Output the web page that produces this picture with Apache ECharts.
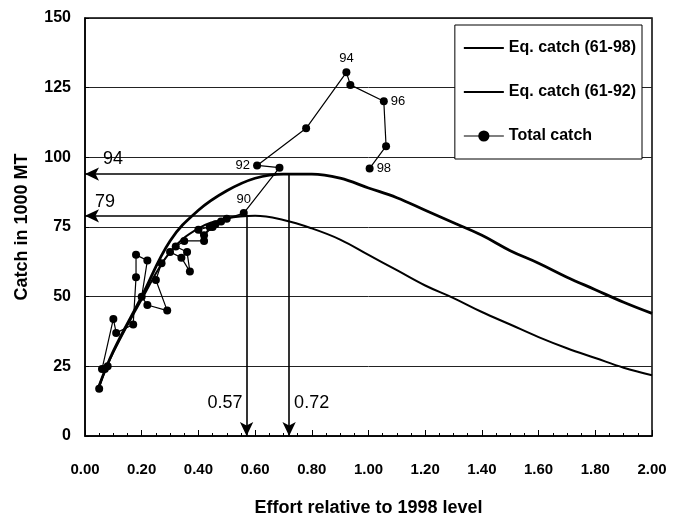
<!DOCTYPE html>
<html>
<head>
<meta charset="utf-8">
<script src="https://cdn.jsdelivr.net/npm/echarts@6/dist/echarts.min.js"></script>
<style>
html,body{margin:0;padding:0;background:#fff;}
#chart{width:686px;height:522px;}
</style>
</head>
<body>
<div id="chart"></div>
<script>
// ---- data ----
const curveEffort = [0.05, 0.1, 0.2, 0.3, 0.4, 0.5, 0.6, 0.7, 0.8, 0.9, 1.0, 1.1, 1.2, 1.3, 1.4, 1.5, 1.6, 1.7, 1.8, 1.9, 2.0];
const eqCatch6198 = [18, 30.5, 50, 70, 81, 88, 92.5, 94, 94, 92.5, 89, 85.5, 81, 76.5, 72, 66.5, 62, 57, 52.5, 48, 44];
const eqCatch6192 = [18, 30, 49, 66, 74.5, 78, 79, 77.5, 74.5, 70.5, 65, 59.5, 54, 49.5, 44.5, 40, 35.5, 31.5, 28, 24.5, 21.8];

const totalYears  = ['61','62','63','64','65','66','67','68','69','70','71','72','73','74','75','76','77','78','79','80','81','82','83','84','85','86','87','88','89','90','91','92','93','94','95','96','97','98'];
const totalEffort = [0.05, 0.07, 0.08, 0.06, 0.10, 0.11, 0.17, 0.18, 0.18, 0.22, 0.20, 0.22, 0.29, 0.25, 0.27, 0.30, 0.34, 0.37, 0.36, 0.32, 0.35, 0.42, 0.40, 0.44, 0.42, 0.46, 0.48, 0.45, 0.50, 0.56, 0.686, 0.607, 0.78, 0.922, 0.936, 1.054, 1.062, 1.004];
const totalCatch  = [17, 24, 25, 24, 42, 37, 40, 57, 65, 63, 50, 47, 45, 56, 62, 66, 64, 59, 66, 68, 70, 70, 74, 75, 72, 76, 77, 75, 78, 80, 96.3, 97.1, 110.4, 130.5, 126, 120.1, 104, 96];
const labeledYears = ['90', '92', '94', '96', '98'];

const msyCatch  = [94, 79];
const msyEffort = [0.72, 0.57];
const msyCatchLabels  = ['94', '79'];
const msyEffortLabels = ['0.57', '0.72'];

const xTicks = ['0.00','0.20','0.40','0.60','0.80','1.00','1.20','1.40','1.60','1.80','2.00'];
const yTicks = [0, 25, 50, 75, 100, 125, 150];

// ---- chart ----
const FONT = '"Liberation Sans",Arial,sans-serif';
const chart = echarts.init(document.getElementById('chart'), null, {renderer: 'canvas'});

const labelPos = {'90': 'top', '92': 'left', '94': 'top', '96': 'right', '98': 'right'};
const totalData = totalEffort.map((e, i) => {
  const yr = totalYears[i];
  const item = {value: [e, totalCatch[i]], name: yr};
  if (labeledYears.includes(yr)) {
    item.label = {show: true, formatter: yr, position: labelPos[yr], distance: 3,
      color: '#000', fontSize: 13, fontFamily: FONT};
  }
  return item;
});

const arrowLines = [
  [{coord: [msyEffort[0], msyCatch[0]]}, {coord: [0, msyCatch[0]]}],
  [{coord: [msyEffort[1], msyCatch[1]]}, {coord: [0, msyCatch[1]]}],
  [{coord: [msyEffort[1], msyCatch[1]]}, {coord: [msyEffort[1], 0]}],
  [{coord: [msyEffort[0], msyCatch[0]]}, {coord: [msyEffort[0], 0]}]
];

const hiddenSymbol = {color: 'rgba(0,0,0,0)', borderColor: 'rgba(0,0,0,0)', borderWidth: 0, opacity: 0};

const option = {
  backgroundColor: '#fff',
  animation: false,
  grid: {left: 85, right: 34, top: 18, bottom: 84, show: true, borderColor: '#000', borderWidth: 1.5, backgroundColor: 'transparent'},
  xAxis: {
    type: 'value', min: 0, max: 2, interval: 0.2,
    name: 'Effort relative to 1998 level', nameLocation: 'middle', nameGap: 63,
    nameTextStyle: {fontFamily: FONT, fontSize: 18, fontWeight: 'bold', color: '#000'},
    axisLine: {show: true, onZero: false, lineStyle: {color: '#000', width: 1.5}},
    axisTick: {show: true, inside: true, length: 6, lineStyle: {color: '#000'}},
    minorTick: {show: true, splitNumber: 4, length: 3, lineStyle: {color: '#000'}},
    splitLine: {show: false},
    axisLabel: {margin: 26, fontFamily: FONT, fontSize: 15, fontWeight: 'bold', color: '#000',
      formatter: (v) => xTicks[Math.round(v / 0.2)] || ''}
  },
  yAxis: {
    type: 'value', min: 0, max: 150, interval: 25,
    name: 'Catch in 1000 MT', nameLocation: 'middle', nameGap: 54, nameRotate: 90,
    nameTextStyle: {fontFamily: FONT, fontSize: 18, fontWeight: 'bold', color: '#000'},
    axisLine: {show: true, lineStyle: {color: '#000', width: 1.5}},
    axisTick: {show: true, inside: true, length: 4, lineStyle: {color: '#000'}},
    splitLine: {show: true, lineStyle: {color: '#222', width: 1}},
    axisLabel: {margin: 14, fontFamily: FONT, fontSize: 16, fontWeight: 'bold', color: '#000',
      formatter: (v) => yTicks.includes(v) ? String(v) : ''}
  },
  legend: {
    orient: 'vertical', right: 44, top: 25,
    backgroundColor: '#fff', borderColor: '#000', borderWidth: 1,
    padding: [15, 6, 15, 8], itemGap: 28, itemWidth: 40, itemHeight: 14,
    textStyle: {fontFamily: FONT, fontSize: 16, fontWeight: 'bold', color: '#000'},
    data: [
      {name: 'Eq. catch (61-98)', itemStyle: hiddenSymbol, lineStyle: {color: '#000', width: 2}},
      {name: 'Eq. catch (61-92)', itemStyle: hiddenSymbol, lineStyle: {color: '#000', width: 2}},
      {name: 'Total catch', itemStyle: {color: '#000'}, lineStyle: {color: '#000', width: 1.2}}
    ]
  },
  series: [
    {
      name: 'Eq. catch (61-98)', type: 'line', smooth: 0.4, symbol: 'none',
      data: curveEffort.map((e, i) => [e, eqCatch6198[i]]),
      lineStyle: {color: '#000', width: 2.8}, itemStyle: {color: '#000'}, z: 3
    },
    {
      name: 'Eq. catch (61-92)', type: 'line', smooth: 0.4, symbol: 'none',
      data: curveEffort.map((e, i) => [e, eqCatch6192[i]]),
      lineStyle: {color: '#000', width: 2}, itemStyle: {color: '#000'}, z: 3,
      markLine: {
        silent: true, symbol: ['none', 'arrow'], symbolSize: [10, 14],
        lineStyle: {color: '#000', width: 1.6, type: 'solid'},
        label: {show: false},
        data: arrowLines
      }
    },
    {
      name: 'Total catch', type: 'line', smooth: false, symbol: 'circle', symbolSize: 8,
      data: totalData,
      lineStyle: {color: '#000', width: 1.2}, itemStyle: {color: '#000'}, z: 4
    }
  ]
};
chart.setOption(option);

// annotation texts placed through the axes' own scales
const p94 = chart.convertToPixel({gridIndex: 0}, [0, msyCatch[0]]);
const p79 = chart.convertToPixel({gridIndex: 0}, [0, msyCatch[1]]);
const p057 = chart.convertToPixel({gridIndex: 0}, [msyEffort[1], 0]);
const p072 = chart.convertToPixel({gridIndex: 0}, [msyEffort[0], 0]);
const txt = (x, y, s, align) => ({type: 'text', x: x, y: y, z: 10,
  style: {text: s, font: '18px "Liberation Sans", Arial, sans-serif', fill: '#000', textAlign: align, textVerticalAlign: 'middle'}});
chart.setOption({graphic: [
  txt(p94[0] + 28, p94[1] - 15, msyCatchLabels[0], 'center'),
  txt(p79[0] + 20, p79[1] - 14, msyCatchLabels[1], 'center'),
  txt(p057[0] - 4, p057[1] - 33, msyEffortLabels[0], 'right'),
  txt(p072[0] + 5, p072[1] - 33, msyEffortLabels[1], 'left')
]});
</script>
</body>
</html>
